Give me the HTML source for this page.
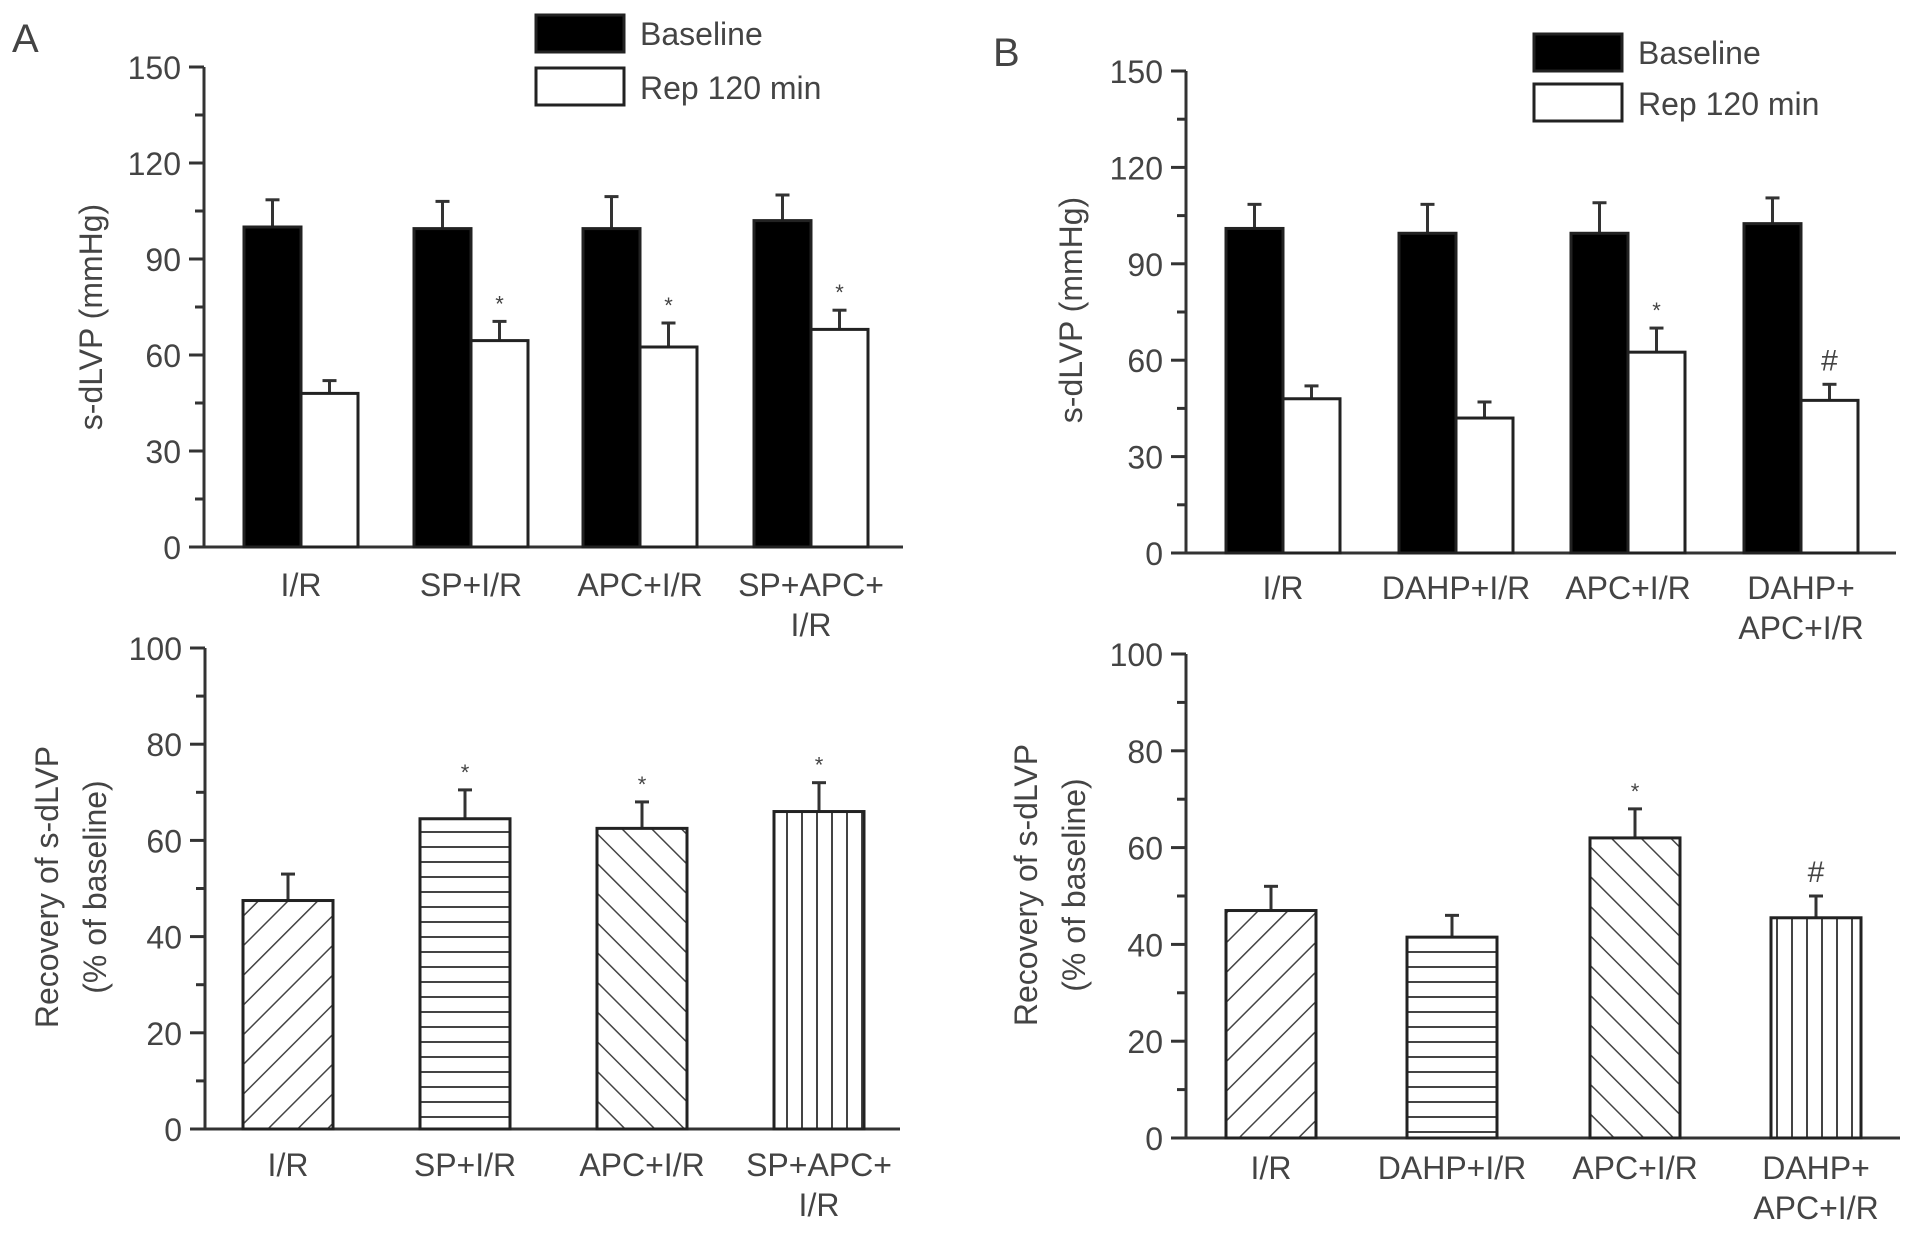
<!DOCTYPE html>
<html><head><meta charset="utf-8"><style>
html,body{margin:0;padding:0;background:#fff;}
svg{display:block;}
text{font-family:"Liberation Sans",sans-serif;fill:#444;}
</style></head><body>
<svg id="fig" width="1913" height="1234" viewBox="0 0 1913 1234" xmlns="http://www.w3.org/2000/svg">
<defs>
<pattern id="pFwd" patternUnits="userSpaceOnUse" width="21" height="21" patternTransform="rotate(45)"><line x1="0" y1="0" x2="0" y2="21" stroke="#444" stroke-width="3"/></pattern>
<pattern id="pHor" patternUnits="userSpaceOnUse" width="15" height="15"><line x1="0" y1="7" x2="15" y2="7" stroke="#444" stroke-width="2"/></pattern>
<pattern id="pBack" patternUnits="userSpaceOnUse" width="21" height="21" patternTransform="rotate(-45)"><line x1="0" y1="0" x2="0" y2="21" stroke="#444" stroke-width="3"/></pattern>
<pattern id="pVer" patternUnits="userSpaceOnUse" width="15" height="15"><line x1="7" y1="0" x2="7" y2="15" stroke="#444" stroke-width="2"/></pattern>
</defs>
<text x="12" y="52" font-size="40">A</text>
<text x="993" y="66" font-size="40">B</text>
</svg>
<script>
const catsA = [["I/R"],["SP+I/R"],["APC+I/R"],["SP+APC+","I/R"]];
const catsB = [["I/R"],["DAHP+I/R"],["APC+I/R"],["DAHP+","APC+I/R"]];
const aTopBase = [100, 99.5, 99.5, 102];
const aTopBaseErr = [108.5, 108, 109.5, 110];
const aTopRep = [48, 64.5, 62.5, 68];
const aTopRepErr = [52, 70.5, 70, 74];
const aTopMarks = ["", "*", "*", "*"];
const bTopBase = [101, 99.5, 99.5, 102.5];
const bTopBaseErr = [108.5, 108.5, 109, 110.5];
const bTopRep = [48, 42, 62.5, 47.5];
const bTopRepErr = [52, 47, 70, 52.5];
const bTopMarks = ["", "", "*", "#"];
const aBot = [47.5, 64.5, 62.5, 66];
const aBotErr = [53, 70.5, 68, 72];
const aBotMarks = ["", "*", "*", "*"];
const bBot = [47, 41.5, 62, 45.5];
const bBotErr = [52, 46, 68, 50];
const bBotMarks = ["", "", "*", "#"];
const topTicks = [0, 30, 60, 90, 120, 150];
const botTicks = [0, 20, 40, 60, 80, 100];
const patterns = ["url(#pFwd)","url(#pHor)","url(#pBack)","url(#pVer)"];

const svg = document.getElementById('fig');
const NS = 'http://www.w3.org/2000/svg';
function mk(tag, attrs, parent){
  const e = document.createElementNS(NS, tag);
  for (const k in attrs) e.setAttribute(k, attrs[k]);
  (parent||svg).appendChild(e);
  return e;
}
function axes(g, ax, x1, y0, yTop, max, ticks){
  const sy = v => y0 - (v/max)*(y0-yTop);
  mk('line',{x1:ax,y1:yTop,x2:ax,y2:y0,stroke:'#333','stroke-width':3},g);
  mk('line',{x1:ax-15,y1:y0,x2:x1,y2:y0,stroke:'#333','stroke-width':3},g);
  ticks.forEach(t=>{
    const y = sy(t);
    const tk = mk('line',{x1:ax-15,y1:y,x2:ax,y2:y,stroke:'#333','stroke-width':3},g);
    
    
    const tx = mk('text',{x:ax-23,y:y+12,'font-size':32,'text-anchor':'end'},g);
    tx.textContent = t;
    
    
  });
  for (let i=0;i<ticks.length-1;i++){
    const v = (ticks[i]+ticks[i+1])/2;
    const y = sy(v);
    const tk = mk('line',{x1:ax-9,y1:y,x2:ax,y2:y,stroke:'#333','stroke-width':3},g);
    
    
  }
  return sy;
}
function bar(g, x, w, v, err, sy, fill, name){
  const y0 = sy(0), yt = sy(v), ye = sy(err), cx = x + w/2;
  const el = mk('line',{x1:cx,y1:yt,x2:cx,y2:ye,stroke:'#333','stroke-width':3},g);
  
  
  const cap = mk('line',{x1:cx-7,y1:ye,x2:cx+7,y2:ye,stroke:'#333','stroke-width':3},g);
  
  
  if (fill !== 'black' && fill !== 'white') {
    const bg = mk('rect',{x:x,y:yt,width:w,height:y0-yt,fill:'white'},g);
    
    
  }
  const r = mk('rect',{x:x,y:yt,width:w,height:y0-yt,fill:fill,stroke:'#222','stroke-width':3},g);
  
  
  return ye;
}
function mark(g, cx, ye, m){
  if (!m) return;
  const t = mk('text',{x:cx,y: m==='#' ? ye-14 : ye-10,'font-size': m==='#'?30:22,'text-anchor':'middle'},g);
  t.textContent = m;
  
  
}
function cats(g, centers, labels, y){
  labels.forEach((lab,i)=>{
    lab.forEach((line,j)=>{
      const t = mk('text',{x:centers[i],y:y+j*40,'font-size':32,'text-anchor':'middle'},g);
      t.textContent = line;
      
      
    });
  });
}
function ytitle(g, lines, x, cy){
  lines.forEach((line,j)=>{
    const xx = x + j*48;
    const t = mk('text',{x:xx,y:cy,'font-size':32,'text-anchor':'middle',transform:`rotate(-90 ${xx} ${cy})`},g);
    t.textContent = line;
    
    
  });
}
function legend(g, x, y1, y2){
  const r1 = mk('rect',{x:x,y:y1,width:88,height:37,fill:'black',stroke:'#222','stroke-width':3},g);
  
  
  const t1 = mk('text',{x:x+104,y:y1+30,'font-size':32},g);
  t1.textContent = 'Baseline';
  
  
  const r2 = mk('rect',{x:x,y:y2,width:88,height:37,fill:'white',stroke:'#222','stroke-width':3},g);
  
  
  const t2 = mk('text',{x:x+104,y:y2+31,'font-size':32},g);
  t2.textContent = 'Rep 120 min';
  
  
}
function groupTop(name, ax, x1, y0, yTop, starts, base, baseErr, rep, repErr, marks, labels, labY, titleX, titleY){
  const g = mk('g',{});
  
  
  const sy = axes(g, ax, x1, y0, yTop, 150, topTicks);
  const w = 57, centers = [];
  starts.forEach((s,i)=>{
    bar(g, s, w, base[i], baseErr[i], sy, 'black', 'bar-baseline-'+(i+1));
    const ye = bar(g, s+w, w, rep[i], repErr[i], sy, 'white', 'bar-rep-'+(i+1));
    mark(g, s+w*1.5, ye, marks[i]);
    centers.push(s+w);
  });
  cats(g, centers, labels, labY);
  ytitle(g, ['s-dLVP (mmHg)'], titleX, titleY);
  return g;
}
function groupBot(name, ax, x1, y0, yTop, starts, vals, errs, marks, labels, labY, titleX, titleY){
  const g = mk('g',{});
  
  
  const sy = axes(g, ax, x1, y0, yTop, 100, botTicks);
  const w = 90, centers = [];
  starts.forEach((s,i)=>{
    const ye = bar(g, s, w, vals[i], errs[i], sy, patterns[i], 'bar-recovery-'+(i+1));
    mark(g, s+w/2, ye, marks[i]);
    centers.push(s+w/2);
  });
  cats(g, centers, labels, labY);
  ytitle(g, ['Recovery of s-dLVP','(% of baseline)'], titleX, titleY);
  return g;
}
const gA = groupTop('panel-a-top-chart', 204, 903, 547, 67, [244,414,583,754], aTopBase, aTopBaseErr, aTopRep, aTopRepErr, aTopMarks, catsA, 596, 102, 317);
legend(gA, 536, 15, 68);
const gB = groupTop('panel-b-top-chart', 1186, 1896, 553, 71, [1226,1399,1571,1744], bTopBase, bTopBaseErr, bTopRep, bTopRepErr, bTopMarks, catsB, 599, 1082, 310);
legend(gB, 1534, 34, 84);
groupBot('panel-a-bottom-chart', 205, 900, 1129, 648, [243,420,597,774], aBot, aBotErr, aBotMarks, catsA, 1176, 58, 887);
groupBot('panel-b-bottom-chart', 1186, 1900, 1138, 654, [1226,1407,1590,1771], bBot, bBotErr, bBotMarks, catsB, 1179, 1037, 885);
</script>
</body></html>
